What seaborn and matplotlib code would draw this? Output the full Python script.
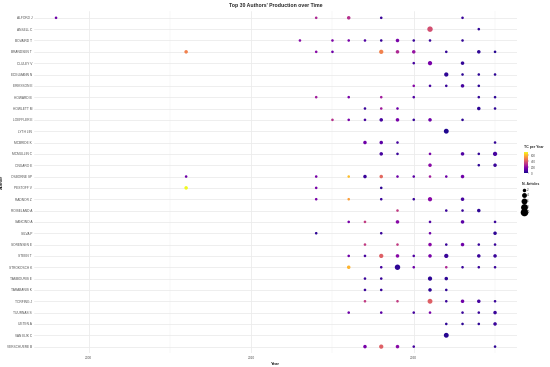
import pandas as pd
import numpy as np
import seaborn as sns
import matplotlib.pyplot as plt
from matplotlib.lines import Line2D
from matplotlib.cm import ScalarMappable
from matplotlib.colors import Normalize

authors = ['ALFORD J', 'ANSELL C', 'BOVAIRD T', 'BRANDSEN T', 'CLULEY V', 'EDELMANN N',
           'ERIKSSON E', 'HOWARD B', 'HOWLETT M', 'LOEFFLER E', 'LYTH LIN', 'MCBRIDE K',
           'MCMULLIN C', 'ONGARO E', 'OSBORNE SP', 'PESTOFF V', 'RADNOR Z', 'ROISELAND A',
           'SANCINO A', 'SILVA P', 'SORENSEN E', 'STEEN T', 'STROKOSCH K', 'TAMBOURIS E',
           'TARABANIS K', 'TORFING J', 'TUURNAS S', 'UETEN A', 'VAN EIJK C', 'VERSCHUERE B']

# one list entry per author (same order as above)
years = [
    [1998, 2014, 2016, 2018, 2023],
    [2021, 2024],
    [2013, 2015, 2016, 2017, 2018, 2019, 2020, 2021, 2023],
    [2006, 2014, 2015, 2018, 2019, 2020, 2022, 2024, 2025],
    [2020, 2021, 2023],
    [2022, 2023, 2024, 2025],
    [2020, 2021, 2022, 2023, 2024],
    [2014, 2016, 2018, 2020, 2024, 2025],
    [2017, 2018, 2019, 2024, 2025],
    [2015, 2016, 2017, 2018, 2019, 2020, 2021, 2023],
    [2022],
    [2017, 2018, 2019, 2025],
    [2018, 2019, 2021, 2023, 2024, 2025],
    [2021, 2024, 2025],
    [2006, 2014, 2016, 2017, 2018, 2019, 2020, 2021, 2022, 2023],
    [2006, 2014, 2018],
    [2014, 2016, 2018, 2020, 2021, 2023],
    [2019, 2022, 2023, 2024],
    [2016, 2017, 2019, 2021, 2023, 2025],
    [2014, 2018, 2021, 2025],
    [2017, 2019, 2021, 2022, 2023, 2024, 2025],
    [2016, 2017, 2018, 2019, 2020, 2021, 2022, 2024, 2025],
    [2016, 2018, 2019, 2020, 2022, 2023, 2024, 2025],
    [2017, 2018, 2021, 2022],
    [2017, 2018, 2021, 2022],
    [2017, 2019, 2021, 2022, 2023, 2024, 2025],
    [2016, 2018, 2020, 2021, 2023, 2024, 2025],
    [2022, 2023, 2024, 2025],
    [2022],
    [2017, 2018, 2019, 2020, 2025],
]
n_articles = [
    [1, 1, 2, 1, 1],
    [5, 1],
    [1, 1, 1, 1, 1, 2, 1, 1, 1],
    [2, 1, 1, 3, 2, 2, 1, 2, 1],
    [1, 3, 2],
    [3, 1, 1, 1],
    [1, 1, 1, 2, 1],
    [1, 1, 1, 1, 1, 1],
    [1, 1, 1, 2, 1],
    [1, 1, 1, 2, 2, 1, 2, 1],
    [4],
    [2, 2, 1, 1],
    [2, 1, 1, 2, 1, 3],
    [2, 1, 2],
    [1, 1, 1, 2, 2, 1, 1, 1, 1, 2],
    [2, 1, 1],
    [1, 1, 1, 1, 3, 2],
    [1, 1, 1, 2],
    [1, 1, 2, 1, 2, 1],
    [1, 1, 1, 2],
    [1, 1, 2, 1, 2, 1, 1],
    [1, 1, 3, 2, 1, 2, 3, 2, 2],
    [2, 1, 5, 1, 1, 1, 1, 1],
    [1, 1, 3, 2],
    [1, 1, 2, 1],
    [1, 1, 4, 1, 2, 2, 1],
    [1, 1, 1, 1, 1, 1, 2],
    [1, 1, 1, 2],
    [4],
    [2, 3, 2, 1, 1],
]
tc_per_year = [
    [150, 280, 300, 60, 60],
    [380, 40],
    [200, 180, 170, 100, 60, 170, 60, 60, 50],
    [500, 200, 150, 500, 280, 230, 50, 40, 30],
    [80, 170, 50],
    [40, 40, 40, 40],
    [200, 80, 60, 80, 40],
    [250, 170, 250, 100, 50, 40],
    [60, 250, 150, 40, 40],
    [300, 170, 80, 80, 170, 60, 150, 40],
    [20],
    [150, 120, 80, 50],
    [80, 60, 170, 100, 50, 80],
    [200, 40, 60],
    [150, 170, 620, 60, 440, 150, 120, 250, 150, 150],
    [720, 170, 40],
    [170, 560, 60, 60, 200, 80],
    [330, 60, 60, 40],
    [170, 330, 200, 100, 120, 60],
    [40, 60, 150, 40],
    [330, 330, 200, 60, 150, 60, 60],
    [150, 80, 420, 200, 100, 170, 60, 60, 60],
    [600, 80, 40, 150, 280, 60, 60, 60],
    [60, 60, 40, 40],
    [60, 60, 40, 40],
    [330, 330, 420, 60, 150, 80, 60],
    [150, 120, 80, 170, 60, 60, 60],
    [40, 40, 40, 60],
    [30],
    [170, 420, 200, 80, 40],
]

df = pd.DataFrame({
    'Author': [a for a, ys in zip(authors, years) for _ in ys],
    'Year': [y for ys in years for y in ys],
    'N': [n for ns in n_articles for n in ns],
    'TC': [t for ts in tc_per_year for t in ts],
})

sns.set_style('white')
plt.rcParams['font.family'] = ['Liberation Sans', 'DejaVu Sans']

fig = plt.figure(figsize=(5.5, 3.67), dpi=100)
ax = fig.add_axes([0.062, 0.037, 0.878, 0.933])

size_range = (3.5, 30)
tc_norm = (0, 720)
ax.set_yticks(range(len(authors)))
sns.scatterplot(data=df, x='Year', y='Author', hue='TC', size='N',
                palette='plasma', hue_norm=tc_norm, sizes=size_range, size_norm=(1, 10),
                linewidth=0, legend=False, ax=ax, zorder=3)

ax.set_ylim(len(authors) - 0.4, -0.6)
ax.set_xlim(1996.65, 2026.35)
ax.set_xticks([2000, 2010, 2020])
ax.set_xticks([2005, 2015, 2025], minor=True)
ax.grid(True, which='major', color='#ebebeb', linewidth=0.6)
ax.grid(True, which='minor', axis='x', color='#f2f2f2', linewidth=0.35)
ax.set_axisbelow(True)
for s in ax.spines.values():
    s.set_visible(False)
ax.tick_params(axis='both', which='both', length=0, labelsize=2.3, colors='#4d4d4d', pad=1.5)
ax.set_xlabel('Year', fontsize=3.2, fontweight='bold', labelpad=1.5)
ax.set_ylabel('Author', fontsize=3.2, fontweight='bold', labelpad=2)
ax.set_title("Top 30 Authors' Production over Time", fontsize=3.7, fontweight='bold', pad=3)

# colour bar for TC per year
cax = fig.add_axes([0.953, 0.528, 0.0075, 0.058])
sm = ScalarMappable(norm=Normalize(*tc_norm), cmap='plasma')
cb = fig.colorbar(sm, cax=cax, ticks=[0, 200, 400, 600])
cb.outline.set_visible(False)
cb.ax.tick_params(labelsize=2.2, length=1, width=0.3, colors='#4d4d4d', pad=1)
fig.text(0.953, 0.595, 'TC per Year', fontsize=2.5, fontweight='bold', ha='left', va='bottom')

# size legend
legend_n = [2, 4, 6, 8, 10]
handles = []
for n in legend_n:
    s = size_range[0] + (size_range[1] - size_range[0]) * (n - 1) / 9
    handles.append(Line2D([], [], marker='o', linestyle='', color='black',
                          markeredgewidth=0, markersize=np.sqrt(s)))
leg = fig.legend(handles, [str(n) for n in legend_n], title='N. Articles',
                 loc='upper left', bbox_to_anchor=(0.945, 0.51), frameon=False,
                 fontsize=2.2, title_fontsize=2.5, labelspacing=0.55,
                 handletextpad=0.3, handlelength=1.2, borderpad=0.2)
leg.get_title().set_fontweight('bold')
leg._legend_box.align = 'left'

fig.savefig('out.png', dpi=100, facecolor='white')
